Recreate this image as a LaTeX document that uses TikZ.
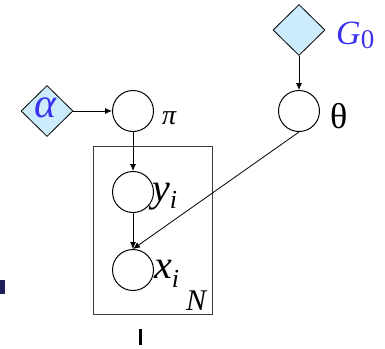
\documentclass[tikz,border=0pt]{standalone}
\usepackage{fontspec}
\setmainfont{Liberation Serif}
\newfontfamily\timesfont{Liberation Serif}
\usepackage{xcolor}
\usetikzlibrary{arrows.meta,shapes.geometric}
\definecolor{hyperfill}{RGB}{204,236,252}
\definecolor{hyperblue}{RGB}{60,50,235}
\definecolor{plategray}{RGB}{60,60,60}
\definecolor{marknavy}{RGB}{30,30,90}

\begin{document}
\begin{tikzpicture}[x=1pt,y=-1pt,
    hyper/.style={diamond,draw,fill=hyperfill,line width=0.8pt,minimum width=52pt,minimum height=51pt,inner sep=0pt},
    latent/.style={circle,draw,line width=1pt,minimum size=41pt,inner sep=0pt},
    lbl/.style={inner sep=0pt},
    edge/.style={line width=0.8pt,-{Latex[length=7pt,width=6pt]}}]
    \useasboundingbox (0,0) rectangle (385,348);
    % Hyperparameter
    \node[hyper] (alpha) at (47,111) {};
    \node[lbl,text=hyperblue,font=\timesfont\fontsize{42}{42}\selectfont\itshape] (alphalbl) at (46,108) {α};
    \node[hyper] (G0) at (299,30) {};
    \node[lbl,text=hyperblue,font=\timesfont\fontsize{34}{34}\selectfont\itshape,anchor=base west] (G0lbl) at (336,44) {G\raisebox{-4pt}{\upshape\fontsize{27}{27}\selectfont 0}};
    % Latent variables
    \node[latent] (pi) at (133,111) {};
    \node[lbl,font=\timesfont\fontsize{28}{28}\selectfont\itshape,anchor=base west] (pilbl) at (162,124) {π};
    \node[latent] (theta) at (299,111) {};
    \node[lbl,font=\timesfont\fontsize{36}{36}\selectfont,anchor=base west] (thetalbl) at (330,128) {θ};
    \node[latent] (yi) at (133,192) {};
    \node[lbl,font=\timesfont\fontsize{40}{40}\selectfont\itshape,anchor=base west] (yilbl) at (152,201) {y\raisebox{-7pt}{\fontsize{26}{26}\selectfont i}};
    \node[latent] (xi) at (133,270) {};
    \node[lbl,font=\timesfont\fontsize{40}{40}\selectfont\itshape,anchor=base west] (xilbl) at (154,278) {x\raisebox{-9pt}{\fontsize{26}{26}\selectfont i}};
    % Plate
    \draw[plategray,line width=1pt] (93,146) rectangle (212,314);
    \node[lbl,font=\timesfont\fontsize{30}{30}\selectfont\itshape,anchor=base west] (N) at (186,310) {N};
    % Edges
    \draw[edge] (alpha.east) -- (pi.west);
    \draw[edge] (G0.south) -- (theta.north);
    \draw[edge] (pi.south) -- (yi.north);
    \draw[edge] (yi.south) -- (xi.north);
    \draw[edge] (theta.south) -- (xi.north);
    % Marks at the edges
    \fill[marknavy] (0,280) rectangle (5,294);
    \fill[black] (138.5,329) rectangle (141.7,345);
\end{tikzpicture}
\end{document}
